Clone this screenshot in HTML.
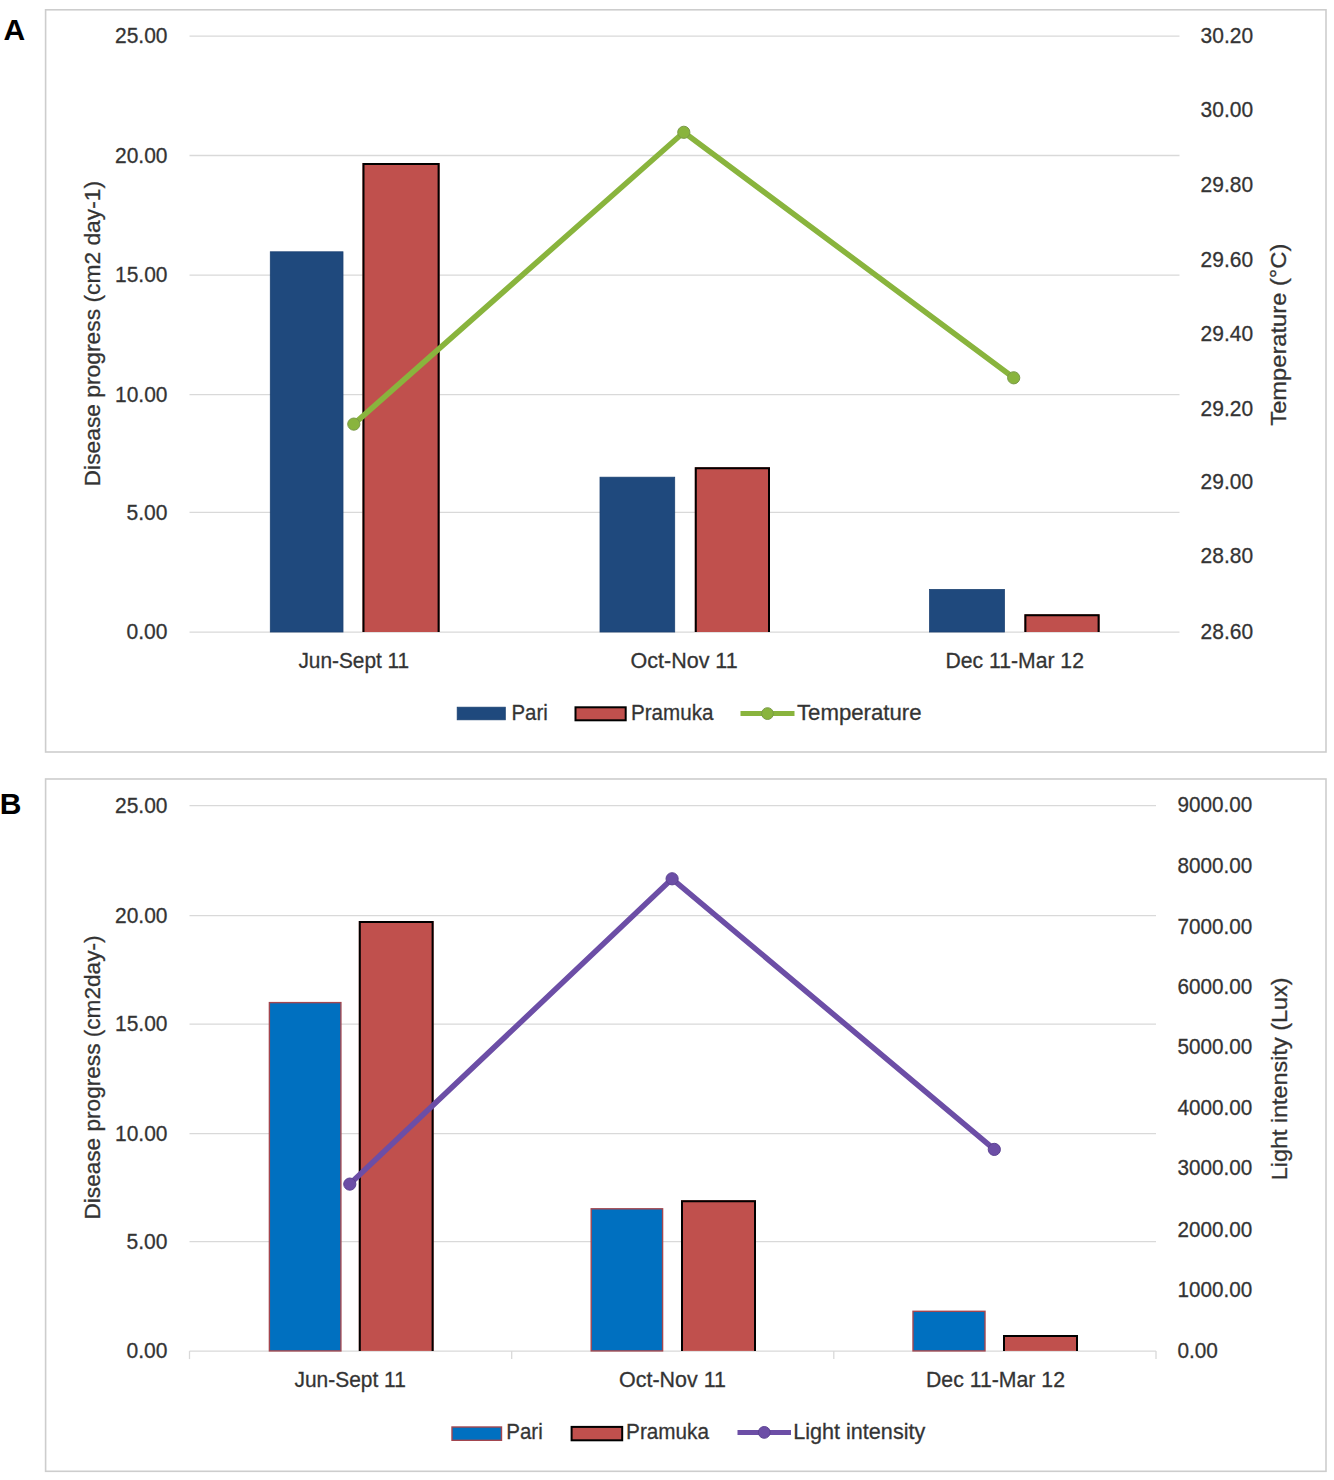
<!DOCTYPE html>
<html><head><meta charset="utf-8"><title>Figure</title>
<style>html,body{margin:0;padding:0;background:#fff}svg{display:block}text{font-family:"Liberation Sans",sans-serif;font-size:22px;fill:#333333;stroke:#3a3a3a;stroke-width:.3px}</style>
</head><body>
<svg width="1334" height="1480" viewBox="0 0 1334 1480">
<rect width="1334" height="1480" fill="#fff"/>
<rect x="45.6" y="9.8" width="1280.4" height="742.2" fill="#fff" stroke="#cdcdcd" stroke-width="1.6"/>
<line x1="189.5" y1="36.20" x2="1179.5" y2="36.20" stroke="#d9d9d9" stroke-width="1.3"/>
<line x1="189.5" y1="155.50" x2="1179.5" y2="155.50" stroke="#d9d9d9" stroke-width="1.3"/>
<line x1="189.5" y1="275.20" x2="1179.5" y2="275.20" stroke="#d9d9d9" stroke-width="1.3"/>
<line x1="189.5" y1="394.70" x2="1179.5" y2="394.70" stroke="#d9d9d9" stroke-width="1.3"/>
<line x1="189.5" y1="512.40" x2="1179.5" y2="512.40" stroke="#d9d9d9" stroke-width="1.3"/>
<line x1="189.5" y1="632.20" x2="1179.5" y2="632.20" stroke="#d9d9d9" stroke-width="1.3"/>
<text x="115.0" y="43.4" textLength="52.5" lengthAdjust="spacingAndGlyphs">25.00</text>
<text x="115.0" y="162.7" textLength="52.5" lengthAdjust="spacingAndGlyphs">20.00</text>
<text x="115.0" y="282.4" textLength="52.5" lengthAdjust="spacingAndGlyphs">15.00</text>
<text x="115.0" y="401.9" textLength="52.5" lengthAdjust="spacingAndGlyphs">10.00</text>
<text x="126.5" y="519.6" textLength="41" lengthAdjust="spacingAndGlyphs">5.00</text>
<text x="126.5" y="639.4" textLength="41" lengthAdjust="spacingAndGlyphs">0.00</text>
<text x="1200.6" y="43.1" textLength="52.5" lengthAdjust="spacingAndGlyphs">30.20</text>
<text x="1200.6" y="116.6" textLength="52.5" lengthAdjust="spacingAndGlyphs">30.00</text>
<text x="1200.6" y="191.7" textLength="52.5" lengthAdjust="spacingAndGlyphs">29.80</text>
<text x="1200.6" y="267.1" textLength="52.5" lengthAdjust="spacingAndGlyphs">29.60</text>
<text x="1200.6" y="341.4" textLength="52.5" lengthAdjust="spacingAndGlyphs">29.40</text>
<text x="1200.6" y="415.5" textLength="52.5" lengthAdjust="spacingAndGlyphs">29.20</text>
<text x="1200.6" y="488.6" textLength="52.5" lengthAdjust="spacingAndGlyphs">29.00</text>
<text x="1200.6" y="563.3" textLength="52.5" lengthAdjust="spacingAndGlyphs">28.80</text>
<text x="1200.6" y="639.3" textLength="52.5" lengthAdjust="spacingAndGlyphs">28.60</text>
<rect x="270.3" y="251.8" width="72.69999999999999" height="380.2" fill="#1f497d" stroke="#1c4272" stroke-width="0.8"/>
<rect x="600" y="477.2" width="74.70000000000005" height="154.8" fill="#1f497d" stroke="#1c4272" stroke-width="0.8"/>
<rect x="929.6" y="589.5" width="74.79999999999995" height="42.5" fill="#1f497d" stroke="#1c4272" stroke-width="0.8"/>
<rect x="362.5" y="163.0" width="77.1" height="469.0" fill="#c0504d"/>
<path d="M363.5,632.0 L363.5,164.0 L438.6,164.0 L438.6,632.0" fill="none" stroke="#000" stroke-width="2"/>
<rect x="694.8" y="467.2" width="75.2" height="164.8" fill="#c0504d"/>
<path d="M695.8,632.0 L695.8,468.2 L769.0,468.2 L769.0,632.0" fill="none" stroke="#000" stroke-width="2"/>
<rect x="1024.4" y="614.3" width="75.2" height="17.7" fill="#c0504d"/>
<path d="M1025.4,632.0 L1025.4,615.3 L1098.6,615.3 L1098.6,632.0" fill="none" stroke="#000" stroke-width="2"/>
<polyline points="353.8,424.1 683.8,132.3 1013.7,377.8" fill="none" stroke="#89b43d" stroke-width="5.5" stroke-linejoin="round" stroke-linecap="round"/>
<circle cx="353.8" cy="424.1" r="6.1" fill="#89b43d" stroke="#7a9a48" stroke-width="1"/>
<circle cx="683.8" cy="132.3" r="6.1" fill="#89b43d" stroke="#7a9a48" stroke-width="1"/>
<circle cx="1013.7" cy="377.8" r="6.1" fill="#89b43d" stroke="#7a9a48" stroke-width="1"/>
<text x="298.4" y="668.2" textLength="110.8" lengthAdjust="spacingAndGlyphs">Jun-Sept 11</text>
<text x="630.5" y="668.2" textLength="107.2" lengthAdjust="spacingAndGlyphs">Oct-Nov 11</text>
<text x="945.5" y="668.2" textLength="138.4" lengthAdjust="spacingAndGlyphs">Dec 11-Mar 12</text>
<text x="100" y="486.4" textLength="305.5" lengthAdjust="spacingAndGlyphs" transform="rotate(-90 100 486.4)">Disease progress (cm2 day-1)</text>
<text x="1285.8" y="425.7" textLength="182" lengthAdjust="spacingAndGlyphs" transform="rotate(-90 1285.8 425.7)">Temperature (°C)</text>
<rect x="457.2" y="707.2" width="48.10000000000002" height="12.599999999999909" fill="#1f497d" stroke="#1c4272" stroke-width="0.8"/>
<rect x="575.5" y="707.3" width="50.2" height="13.0" fill="#c0504d" stroke="#000" stroke-width="2"/>
<line x1="740.5" y1="713.6" x2="794.5" y2="713.6" stroke="#89b43d" stroke-width="5" stroke-linecap="butt"/>
<circle cx="767.5" cy="713.6" r="5.9" fill="#89b43d" stroke="#7a9a48" stroke-width="1"/>
<text x="511.5" y="719.9" textLength="36.3" lengthAdjust="spacingAndGlyphs">Pari</text>
<text x="631" y="719.9" textLength="82.5" lengthAdjust="spacingAndGlyphs">Pramuka</text>
<text x="797" y="719.9" textLength="124.5" lengthAdjust="spacingAndGlyphs">Temperature</text>
<rect x="45.6" y="779" width="1280.4" height="692.3" fill="#fff" stroke="#cdcdcd" stroke-width="1.6"/>
<line x1="189.5" y1="805.60" x2="1156" y2="805.60" stroke="#d9d9d9" stroke-width="1.3"/>
<line x1="189.5" y1="915.70" x2="1156" y2="915.70" stroke="#d9d9d9" stroke-width="1.3"/>
<line x1="189.5" y1="1024.10" x2="1156" y2="1024.10" stroke="#d9d9d9" stroke-width="1.3"/>
<line x1="189.5" y1="1133.70" x2="1156" y2="1133.70" stroke="#d9d9d9" stroke-width="1.3"/>
<line x1="189.5" y1="1241.60" x2="1156" y2="1241.60" stroke="#d9d9d9" stroke-width="1.3"/>
<line x1="189.5" y1="1351.10" x2="1156" y2="1351.10" stroke="#d9d9d9" stroke-width="1.3"/>
<line x1="189.5" y1="1351.1" x2="189.5" y2="1359.1" stroke="#d9d9d9" stroke-width="1.3"/>
<line x1="511.7" y1="1351.1" x2="511.7" y2="1359.1" stroke="#d9d9d9" stroke-width="1.3"/>
<line x1="833.8" y1="1351.1" x2="833.8" y2="1359.1" stroke="#d9d9d9" stroke-width="1.3"/>
<line x1="1156.0" y1="1351.1" x2="1156.0" y2="1359.1" stroke="#d9d9d9" stroke-width="1.3"/>
<text x="115.0" y="812.8" textLength="52.5" lengthAdjust="spacingAndGlyphs">25.00</text>
<text x="115.0" y="922.9" textLength="52.5" lengthAdjust="spacingAndGlyphs">20.00</text>
<text x="115.0" y="1031.3" textLength="52.5" lengthAdjust="spacingAndGlyphs">15.00</text>
<text x="115.0" y="1140.9" textLength="52.5" lengthAdjust="spacingAndGlyphs">10.00</text>
<text x="126.5" y="1248.8" textLength="41" lengthAdjust="spacingAndGlyphs">5.00</text>
<text x="126.5" y="1358.3" textLength="41" lengthAdjust="spacingAndGlyphs">0.00</text>
<text x="1177.4" y="812.3" textLength="74.8" lengthAdjust="spacingAndGlyphs">9000.00</text>
<text x="1177.4" y="872.5" textLength="74.8" lengthAdjust="spacingAndGlyphs">8000.00</text>
<text x="1177.4" y="934.1" textLength="74.8" lengthAdjust="spacingAndGlyphs">7000.00</text>
<text x="1177.4" y="994.1" textLength="74.8" lengthAdjust="spacingAndGlyphs">6000.00</text>
<text x="1177.4" y="1054.3" textLength="74.8" lengthAdjust="spacingAndGlyphs">5000.00</text>
<text x="1177.4" y="1115.3" textLength="74.8" lengthAdjust="spacingAndGlyphs">4000.00</text>
<text x="1177.4" y="1174.6" textLength="74.8" lengthAdjust="spacingAndGlyphs">3000.00</text>
<text x="1177.4" y="1236.9" textLength="74.8" lengthAdjust="spacingAndGlyphs">2000.00</text>
<text x="1177.4" y="1297.1" textLength="74.8" lengthAdjust="spacingAndGlyphs">1000.00</text>
<text x="1177.4" y="1358.3" textLength="40.5" lengthAdjust="spacingAndGlyphs">0.00</text>
<rect x="269.4" y="1002.6" width="71.5" height="348.3" fill="#0070c0" stroke="#a3464f" stroke-width="1.4"/>
<rect x="591.2" y="1208.8" width="71.39999999999998" height="142.1" fill="#0070c0" stroke="#a3464f" stroke-width="1.4"/>
<rect x="913" y="1311.3" width="72" height="39.6" fill="#0070c0" stroke="#a3464f" stroke-width="1.4"/>
<rect x="358.8" y="921.0" width="74.8" height="429.9" fill="#c0504d"/>
<path d="M359.8,1350.9 L359.8,922.0 L432.6,922.0 L432.6,1350.9" fill="none" stroke="#000" stroke-width="2"/>
<rect x="681" y="1200.2" width="75.0" height="150.7" fill="#c0504d"/>
<path d="M682.0,1350.9 L682.0,1201.2 L755.0,1201.2 L755.0,1350.9" fill="none" stroke="#000" stroke-width="2"/>
<rect x="1003" y="1335.0" width="75.0" height="15.9" fill="#c0504d"/>
<path d="M1004.0,1350.9 L1004.0,1336.0 L1077.0,1336.0 L1077.0,1350.9" fill="none" stroke="#000" stroke-width="2"/>
<polyline points="349.8,1184.1 672.1,878.8 994.3,1149.4" fill="none" stroke="#6c4ea6" stroke-width="5.5" stroke-linejoin="round" stroke-linecap="round"/>
<circle cx="349.8" cy="1184.1" r="6.1" fill="#6c4ea6" stroke="#5c4392" stroke-width="1"/>
<circle cx="672.1" cy="878.8" r="6.1" fill="#6c4ea6" stroke="#5c4392" stroke-width="1"/>
<circle cx="994.3" cy="1149.4" r="6.1" fill="#6c4ea6" stroke="#5c4392" stroke-width="1"/>
<text x="294.5" y="1387.2" textLength="111.3" lengthAdjust="spacingAndGlyphs">Jun-Sept 11</text>
<text x="619" y="1387.2" textLength="107" lengthAdjust="spacingAndGlyphs">Oct-Nov 11</text>
<text x="926" y="1387.2" textLength="139" lengthAdjust="spacingAndGlyphs">Dec 11-Mar 12</text>
<text x="100" y="1219.5" textLength="284" lengthAdjust="spacingAndGlyphs" transform="rotate(-90 100 1219.5)">Disease progress (cm2day-)</text>
<text x="1286.7" y="1180.3" textLength="202.8" lengthAdjust="spacingAndGlyphs" transform="rotate(-90 1286.7 1180.3)">Light intensity (Lux)</text>
<rect x="452" y="1427" width="49.5" height="13.299999999999955" fill="#0070c0" stroke="#a3464f" stroke-width="1.4"/>
<rect x="571.6" y="1426.9" width="50.6" height="13.4" fill="#c0504d" stroke="#000" stroke-width="2"/>
<line x1="737.5" y1="1432.4" x2="791" y2="1432.4" stroke="#6c4ea6" stroke-width="5" stroke-linecap="butt"/>
<circle cx="764.25" cy="1432.4" r="5.9" fill="#6c4ea6" stroke="#5c4392" stroke-width="1"/>
<text x="506.2" y="1438.7" textLength="36.5" lengthAdjust="spacingAndGlyphs">Pari</text>
<text x="626.1" y="1438.7" textLength="82.9" lengthAdjust="spacingAndGlyphs">Pramuka</text>
<text x="793.2" y="1438.7" textLength="132.1" lengthAdjust="spacingAndGlyphs">Light intensity</text>
<text x="3.5" y="39.7" style="font-size:30px;fill:#000;font-weight:bold;stroke:none;">A</text>
<text x="-0.2" y="814.1" style="font-size:30px;fill:#000;font-weight:bold;stroke:none;">B</text>
</svg></body></html>
